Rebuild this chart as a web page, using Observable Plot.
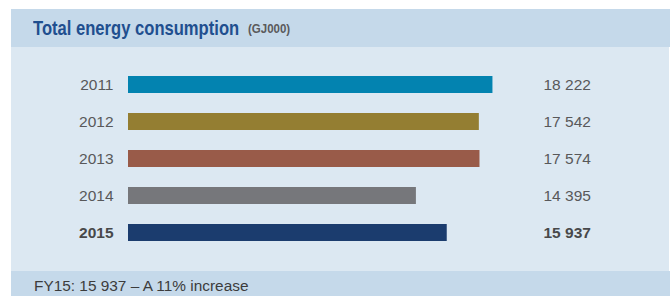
<!DOCTYPE html>
<html>
<head>
<meta charset="utf-8">
<script src="https://cdn.jsdelivr.net/npm/d3@7"></script>
<script src="https://cdn.jsdelivr.net/npm/@observablehq/plot@0.6"></script>
<style>
  html, body { margin: 0; padding: 0; background: #ffffff; }
  #frame { position: relative; width: 672px; height: 296px; overflow: hidden; font-family: "Liberation Sans", Arial, Helvetica, sans-serif; }
  #header { position: absolute; left: 11px; top: 9px; width: 659px; height: 38px; background: #c5d9ea; }
  #body { position: absolute; left: 11px; top: 47px; width: 658px; height: 224px; background: #dce8f2; }
  #footer { position: absolute; left: 11px; top: 271px; width: 659px; height: 25px; background: #c5d9ea; }
  .t { position: absolute; white-space: nowrap; transform-origin: 0 0; }
  #title { left: 33px; top: 15.5px; font-size: 21px; line-height: 24px; font-weight: bold; color: #1f4f8f; transform: scaleX(0.79); }
  #unit { left: 248px; top: 22px; font-size: 12.5px; line-height: 15px; font-weight: bold; color: #5a5a5c; transform: scaleX(0.92); }
  #note { left: 34px; top: 277px; font-size: 15.4px; line-height: 18px; color: #3c3c3c; }
  #chart { position: absolute; left: 11px; top: 47px; }
</style>
</head>
<body>
<div id="frame">
  <div id="header"></div>
  <div id="body"></div>
  <div id="footer"></div>
  <div class="t" id="title">Total energy consumption</div>
  <div class="t" id="unit">(GJ000)</div>
  <div class="t" id="note">FY15: 15 937 – A 11% increase</div>
  <div id="chart"></div>
</div>
<script>
const years = ["2011", "2012", "2013", "2014", "2015"];
const values = [18222, 17542, 17574, 14395, 15937];
const colors = ["#0383b0", "#947e32", "#995b49", "#76777b", "#1b3c6e"];
const boldYears = ["2015"];

const fmt = d3.formatLocale({decimal: ".", thousands: " ", grouping: [3], currency: ["", ""]}).format(",d");
const data = years.map((y, i) => ({year: y, value: values[i], label: fmt(values[i])}));
const normal = data.filter(d => !boldYears.includes(d.year));
const bold = data.filter(d => boldYears.includes(d.year));

const chart = Plot.plot({
  width: 658,
  height: 224,
  marginLeft: 117,
  marginRight: 141,
  marginTop: 19,
  marginBottom: 19,
  style: {background: "transparent", fontFamily: "'Liberation Sans', Arial, sans-serif", fontSize: "15.5px"},
  x: {domain: [0, 20000], axis: null},
  y: {domain: years, axis: null, paddingInner: 0.54, paddingOuter: 0.27},
  color: {domain: years, range: colors},
  marks: [
    Plot.barX(data, {x: "value", y: "year", fill: "year"}),
    Plot.text(normal, {y: "year", text: "year", frameAnchor: "left", dx: -15, textAnchor: "end", fill: "#58585a", fontSize: 15.5}),
    Plot.text(bold, {y: "year", text: "year", frameAnchor: "left", dx: -15, textAnchor: "end", fill: "#48484a", fontWeight: "bold", fontSize: 15.5}),
    Plot.text(normal, {y: "year", text: "label", frameAnchor: "right", dx: 15, textAnchor: "start", fill: "#58585a", fontSize: 15.5}),
    Plot.text(bold, {y: "year", text: "label", frameAnchor: "right", dx: 15, textAnchor: "start", fill: "#48484a", fontWeight: "bold", fontSize: 15.5})
  ]
});
document.getElementById("chart").appendChild(chart);
</script>
</body>
</html>
